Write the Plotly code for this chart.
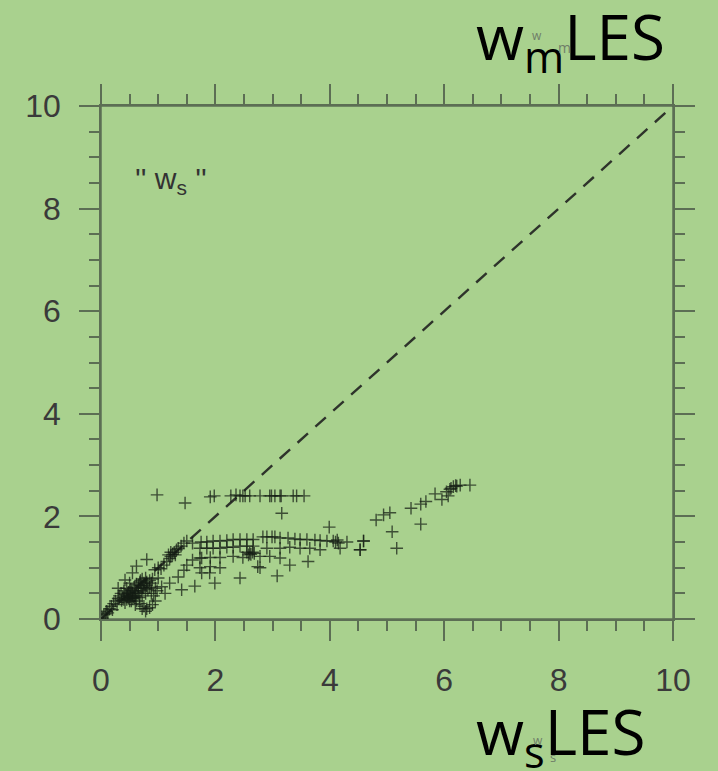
import plotly.graph_objects as go

# ---- data ----
x_vals = [
    0.02, 0.05, 0.08, 0.10, 0.12, 0.15, 0.18, 0.20, 0.22, 0.25, 0.28, 0.30,
    0.32, 0.35, 0.38, 0.40, 0.42, 0.45, 0.45, 0.48, 0.50, 0.50, 0.52, 0.55, 0.55, 0.58,
    0.60, 0.60, 0.62, 0.62, 0.65, 0.65, 0.68, 0.70, 0.70, 0.72, 0.72, 0.75, 0.75, 0.78,
    0.78, 0.80, 0.80, 0.82, 0.85, 0.85, 0.88, 0.90, 0.42, 0.48, 0.53, 0.58, 0.40, 0.36,
    0.67, 0.60, 0.68, 0.75, 0.80, 0.85, 0.90, 0.95, 0.92, 0.88, 0.95, 0.72, 0.78,
    0.42, 0.55, 0.62, 0.80, 0.94, 1.00, 1.06, 1.12, 1.41, 1.64, 1.35, 1.76, 1.76, 1.90,
    0.30, 0.50, 1.00, 1.20, 0.98,
    0.46, 0.52, 0.57, 0.63, 0.47, 0.54, 0.66, 0.73, 0.69, 0.77,
    1.05, 1.10, 1.15, 1.20, 1.22, 1.25, 1.28, 1.30, 1.32, 1.35, 1.40, 1.45, 1.50, 1.22, 1.18,
    1.60, 1.75, 1.85, 1.96, 2.08, 2.20, 2.31, 2.43, 2.55, 2.66, 2.83, 2.90, 2.99, 3.04,
    3.13, 3.27, 3.39, 3.48, 3.60, 3.74, 3.83, 3.95, 4.06, 4.10, 4.13, 4.15, 4.30, 4.59,
    1.73, 1.85, 1.96, 2.08, 2.20, 2.31, 2.43, 2.55, 2.66, 2.90, 3.13, 3.30, 3.48, 3.65,
    3.83, 4.18, 4.53,
    2.55, 2.60, 2.62, 2.65, 2.58, 2.68,
    1.73, 1.91, 2.08, 2.31, 2.48, 2.78, 2.95, 3.13, 3.62,
    1.73, 1.91, 2.08, 2.78, 2.74,
    2.43, 1.99, 3.08, 3.30, 1.50, 1.60, 1.45,
    0.98, 1.47, 1.91, 1.98, 2.27, 2.36, 2.43, 2.48, 2.52, 2.60, 2.78, 2.95, 2.98, 3.04,
    3.13, 3.15, 3.36, 3.42, 3.55,
    3.16, 3.99, 4.81, 4.94, 5.05, 5.42, 5.59, 5.68, 5.84, 5.96, 6.04, 6.10, 6.16, 6.22,
    6.28, 6.45, 6.07, 6.12, 6.20, 5.09, 5.59, 5.17, 4.59, 4.53,
]
y_vals = [
    0.02, 0.08, 0.10, 0.15, 0.12, 0.20, 0.25, 0.18, 0.30, 0.35, 0.28, 0.40,
    0.45, 0.50, 0.42, 0.55, 0.48, 0.38, 0.60, 0.52, 0.45, 0.35, 0.58, 0.50, 0.40, 0.62,
    0.45, 0.55, 0.35, 0.68, 0.50, 0.60, 0.72, 0.55, 0.65, 0.45, 0.78, 0.60, 0.70, 0.50,
    0.80, 0.65, 0.72, 0.58, 0.75, 0.62, 0.70, 0.78, 0.32, 0.40, 0.35, 0.42, 0.38, 0.36,
    0.42, 0.28, 0.30, 0.25, 0.20, 0.22, 0.28, 0.35, 0.45, 0.50, 0.60, 0.20, 0.15,
    0.76, 0.90, 1.03, 1.16, 0.96, 1.00, 0.63, 0.50, 0.57, 0.64, 0.82, 1.19, 0.90, 0.90,
    0.60, 0.70, 0.80, 0.70, 0.55,
    0.44, 0.47, 0.43, 0.52, 0.50, 0.55, 0.66, 0.62, 0.75, 0.68,
    0.98, 1.05, 1.12, 1.18, 1.22, 1.26, 1.30, 1.25, 1.35, 1.38, 1.42, 1.48, 1.52, 1.30, 1.25,
    1.48, 1.50, 1.50, 1.52, 1.52, 1.53, 1.55, 1.55, 1.55, 1.55, 1.60, 1.60, 1.60, 1.60,
    1.58, 1.58, 1.56, 1.55, 1.55, 1.54, 1.53, 1.52, 1.52, 1.50, 1.54, 1.48, 1.50, 1.52,
    1.38, 1.38, 1.38, 1.38, 1.40, 1.40, 1.42, 1.42, 1.42, 1.38, 1.38, 1.40, 1.38, 1.38,
    1.35, 1.38, 1.35,
    1.30, 1.28, 1.26, 1.30, 1.25, 1.28,
    1.19, 1.20, 1.20, 1.22, 1.20, 1.22, 1.22, 1.19, 1.12,
    1.00, 1.02, 1.00, 1.00, 1.02,
    0.80, 0.70, 0.84, 1.05, 1.05, 1.15, 0.95,
    2.42, 2.26, 2.38, 2.40, 2.40, 2.42, 2.40, 2.40, 2.40, 2.40, 2.40, 2.40, 2.40, 2.40,
    2.40, 2.40, 2.40, 2.40, 2.40,
    2.06, 1.79, 1.93, 2.03, 2.07, 2.16, 2.24, 2.29, 2.44, 2.33, 2.48, 2.53, 2.58, 2.59,
    2.61, 2.61, 2.40, 2.55, 2.60, 1.70, 1.85, 1.38, 1.52, 1.35,
]
diag = [0, 10]
tick_vals = [0, 2, 4, 6, 8, 10]
tick_text = ["0", "2", "4", "6", "8", "10"]

BG = "#A9D18E"
AX = "#5c6e54"

fig = go.Figure()
fig.add_trace(go.Scatter(
    x=diag, y=diag, mode="lines",
    line=dict(color="#2e332b", width=2.4, dash="14px,10px"),
    hoverinfo="skip", showlegend=False,
))
fig.add_trace(go.Scatter(
    x=x_vals, y=y_vals, mode="markers",
    marker=dict(symbol="cross-thin", size=9,
                line=dict(color="rgba(20,28,20,0.72)", width=1.4)),
    showlegend=False,
))

axis_common = dict(
    range=[0, 10], tickvals=tick_vals, ticktext=tick_text,
    showgrid=False, zeroline=False, showline=True, linecolor=AX, linewidth=1.5,
    mirror="allticks", ticks="outside", ticklen=20, tickwidth=1.5, tickcolor=AX,
    minor=dict(dtick=0.5, tick0=0, ticks="outside", ticklen=10, tickwidth=1.5,
               tickcolor=AX, showgrid=False),
    tickfont=dict(family="Liberation Sans", size=32, color="#3a3a3a"),
    fixedrange=True,
)
fig.update_xaxes(**axis_common, ticklabelstandoff=12)
fig.update_yaxes(**axis_common, ticklabelstandoff=12)

# extended frame lines (axes cross at corners)
ext_x, ext_y = 0.03, 0.031
shapes = [
    dict(type="line", xref="paper", yref="paper", x0=-ext_x, x1=1 + ext_x, y0=0, y1=0),
    dict(type="line", xref="paper", yref="paper", x0=-ext_x, x1=1 + ext_x, y0=1, y1=1),
    dict(type="line", xref="paper", yref="paper", x0=0, x1=0, y0=-ext_y, y1=1 + ext_y),
    dict(type="line", xref="paper", yref="paper", x0=1, x1=1, y0=-ext_y, y1=1 + ext_y),
]
for s in shapes:
    s["line"] = dict(color=AX, width=1.5)
    s["layer"] = "below"

W, H = 718, 771
L, R, T, B = 101, 673, 106, 619


def px(xp):
    return (xp - L) / (R - L)


def py(yp):
    return (B - yp) / (B - T)


def ghost(text, xp, yp, size):
    return dict(text=text, x=px(xp), y=py(yp), xref="paper", yref="paper",
                xanchor="center", yanchor="middle", showarrow=False,
                font=dict(family="Open Sans", size=size, color="#6f7d68"))


annotations = [
    dict(text="'' w<sub>s</sub> ''", x=1.22, y=8.55, xref="x", yref="y",
         xanchor="center", yanchor="middle",
         showarrow=False, font=dict(family="Liberation Sans", size=30, color="#333333")),
    dict(text="w<sub>m</sub>LES", x=px(474), y=py(88), xref="paper", yref="paper",
         xanchor="left", yanchor="bottom", showarrow=False,
         font=dict(family="Open Sans", size=62, color="#000000")),
    dict(text="w<sub>s</sub>LES", x=px(474), y=py(783), xref="paper", yref="paper",
         xanchor="left", yanchor="bottom", showarrow=False,
         font=dict(family="Open Sans", size=62, color="#000000")),
    # faint ghost glyphs visible in the reference labels
    ghost("w", 537, 35, 12),
    ghost("m", 564, 48, 14),
    ghost("w", 538, 740, 12),
    ghost("s", 553, 757, 13),
]

fig.update_layout(
    width=W, height=H,
    margin=dict(l=L, r=W - R, t=T, b=H - B, pad=0),
    paper_bgcolor=BG, plot_bgcolor=BG,
    shapes=shapes, annotations=annotations,
    showlegend=False,
)

fig.write_html("out.html")
